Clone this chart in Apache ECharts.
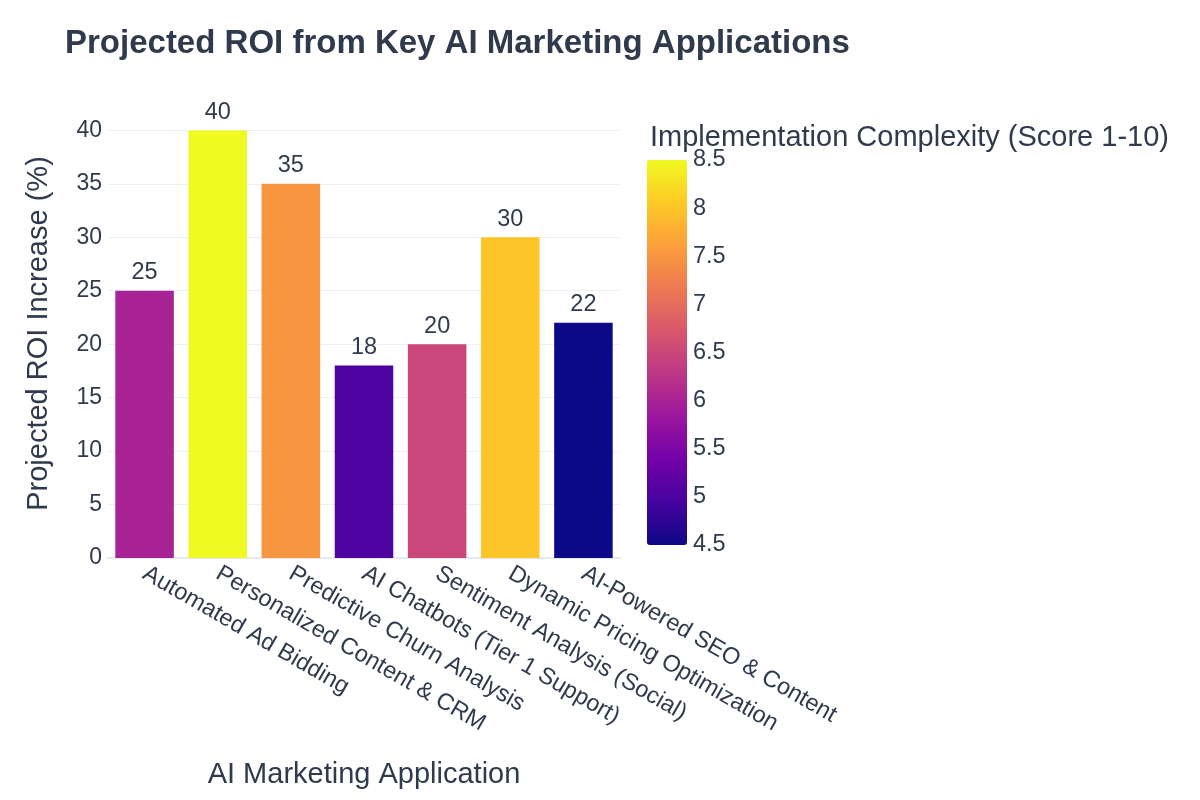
<!DOCTYPE html>
<html>
<head>
<meta charset="utf-8">
<script src="https://cdn.jsdelivr.net/npm/echarts@6/dist/echarts.min.js"></script>
<style>
  html, body { margin: 0; padding: 0; background: #fff; }
  #chart { width: 1200px; height: 800px; }
</style>
</head>
<body>
<div id="chart"></div>
<script>
// data
var applications = [
  "Automated Ad Bidding",
  "Personalized Content & CRM",
  "Predictive Churn Analysis",
  "AI Chatbots (Tier 1 Support)",
  "Sentiment Analysis (Social)",
  "Dynamic Pricing Optimization",
  "AI-Powered SEO & Content"
];
var roiIncrease = [25, 40, 35, 18, 20, 30, 22];
var complexity = [6.0, 8.5, 7.5, 5.0, 6.5, 8.0, 4.5];

// plotly "plasma" scale
var plasma = ["#0d0887", "#46039f", "#7201a8", "#9c179e", "#bd3786",
  "#d8576b", "#ed7953", "#fb9f3a", "#fdca26", "#f0f921"];

var font = "Liberation Sans, Arial, sans-serif";
var textColor = "#2f3a4c";

var myChart = echarts.init(document.getElementById("chart"));
myChart.setOption({
  backgroundColor: "#fff",
  textStyle: { fontFamily: font },
  title: [
    {
      text: "Projected ROI from Key AI Marketing Applications",
      left: 60,
      top: 22,
      textStyle: { fontSize: 33, fontWeight: "bold", color: textColor, fontFamily: font }
    },
    {
      text: "Implementation Complexity (Score 1-10)",
      left: 645,
      top: 118,
      textStyle: { fontSize: 29, fontWeight: "normal", color: textColor, fontFamily: font }
    }
  ],
  grid: [
    { left: 108, right: 580, top: 109, bottom: 242 },
    // holds the colour bar tick labels
    { left: 647, width: 40, top: 160, height: 385 }
  ],
  visualMap: {
    type: "continuous",
    min: 4.5,
    max: 8.5,
    dimension: 2,
    seriesIndex: 0,
    left: 632,
    top: 145,
    itemWidth: 40,
    itemHeight: 385,
    calculable: false,
    text: null,
    showLabel: false,
    inRange: { color: plasma }
  },
  xAxis: [
    {
      type: "category",
      gridIndex: 0,
      data: applications,
      name: "AI Marketing Application",
      nameLocation: "middle",
      nameGap: 202,
      nameTextStyle: { fontSize: 29, color: textColor },
      axisLine: { lineStyle: { color: "#e5eaf2", width: 2 } },
      axisTick: { show: false },
      axisLabel: {
        rotate: -30,
        fontSize: 23.5,
        color: textColor,
        interval: 0,
        margin: 14
      }
    },
    { type: "value", gridIndex: 1, show: false, min: 0, max: 1 }
  ],
  yAxis: [
    {
      type: "value",
      gridIndex: 0,
      min: 0,
      max: 42,
      interval: 5,
      name: "Projected ROI Increase (%)",
      nameLocation: "middle",
      nameGap: 55,
      nameTextStyle: { fontSize: 29, color: textColor },
      axisLine: { show: false },
      axisTick: { show: false },
      axisLabel: { fontSize: 23, color: textColor, margin: 6, showMaxLabel: false },
      splitLine: { showMaxLine: false, lineStyle: { color: "#ebf0f8", width: 1 } }
    },
    {
      type: "value",
      gridIndex: 1,
      position: "right",
      min: 4.5,
      max: 8.5,
      interval: 0.5,
      axisLine: { show: false },
      axisTick: { show: false },
      splitLine: { show: false },
      axisLabel: { fontSize: 23.5, color: textColor, margin: 6 }
    }
  ],
  series: [
    {
      type: "bar",
      xAxisIndex: 0,
      yAxisIndex: 0,
      barCategoryGap: "20%",
      encode: { x: 0, y: 1 },
      data: applications.map(function (name, i) {
        return [name, roiIncrease[i], complexity[i]];
      }),
      label: {
        show: true,
        position: "top",
        distance: 6,
        fontSize: 23.5,
        color: textColor,
        formatter: function (p) { return p.value[1]; }
      }
    }
  ]
});
</script>
</body>
</html>
